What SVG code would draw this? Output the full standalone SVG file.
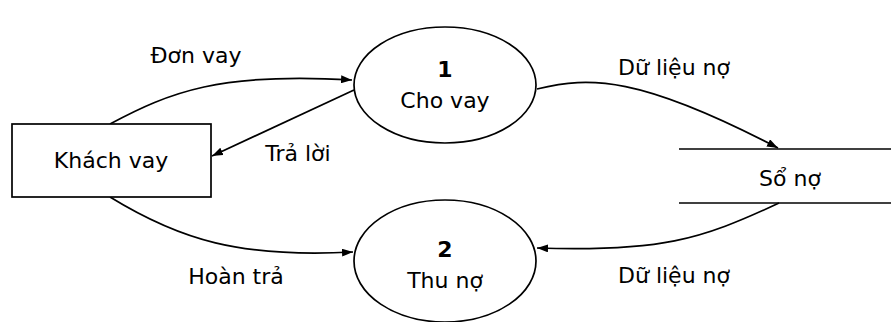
<svg xmlns="http://www.w3.org/2000/svg" width="891" height="322" viewBox="0 0 891 322">
<style>
text{font-family:"DejaVu Sans","Liberation Sans",sans-serif;font-size:22px;fill:#000}
.c{text-anchor:middle}
.b{font-weight:bold}
.n{fill:#fff;stroke:#000;stroke-width:1.7}
.e{fill:none;stroke:#000;stroke-width:1.7}
</style>
<defs>
<marker id="ah" viewBox="0 0 11 8" refX="11" refY="4" markerWidth="11" markerHeight="8" markerUnits="userSpaceOnUse" orient="auto">
<path d="M0,0 L11,4 L0,8 z" fill="#000"/>
</marker>
</defs>
<rect width="891" height="322" fill="#fff"/>
<g id="connectors">
<path class="e" d="M110,124 C170,92 220,72 352,80" marker-end="url(#ah)"/>
<path class="e" d="M354,90 L212,156" marker-end="url(#ah)"/>
<path class="e" d="M537,89 C590,76 640,76 778,148" marker-end="url(#ah)"/>
<path class="e" d="M110,197 C180,240 240,258 353,252" marker-end="url(#ah)"/>
<path class="e" d="M779,203 C700,240 660,252 537,248" marker-end="url(#ah)"/>
<text x="196" y="63" class="c">Đơn vay</text>
<text x="298" y="161" class="c">Trả lời</text>
<text x="674" y="75" class="c">Dữ liệu nợ</text>
<text x="236" y="284" class="c">Hoàn trả</text>
<text x="674" y="283" class="c">Dữ liệu nợ</text>
</g>
<g id="khach-vay">
<rect class="n" x="12" y="124" width="199" height="73"/>
<text x="111" y="168" class="c">Khách vay</text>
</g>
<g id="cho-vay">
<ellipse class="n" cx="445" cy="85" rx="91" ry="58"/>
<text x="445" y="77" class="c b">1</text>
<text x="445" y="108" class="c">Cho vay</text>
</g>
<g id="thu-no">
<ellipse class="n" cx="445" cy="261" rx="91" ry="61"/>
<text x="445" y="257" class="c b">2</text>
<text x="445" y="288" class="c">Thu nợ</text>
</g>
<g id="so-no">
<line class="e" x1="679" y1="149" x2="891" y2="149"/>
<line class="e" x1="679" y1="203" x2="891" y2="203"/>
<text x="790" y="186" class="c">Sổ nợ</text>
</g>
</svg>
